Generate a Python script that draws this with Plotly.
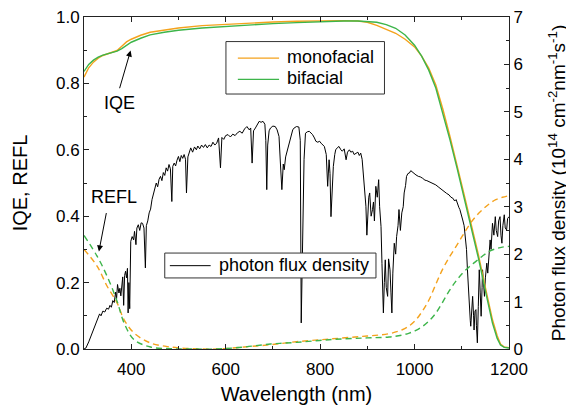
import plotly.graph_objects as go

# IQE curves (left axis)
wl_iqe = [300, 305, 310, 320, 330, 340, 355, 370, 380, 390, 400, 420, 440, 470, 500, 550,
          600, 650, 700, 750, 800, 850, 880, 900, 920, 940, 960, 980, 1000, 1015, 1030,
          1045, 1060, 1075, 1090, 1105, 1120, 1135, 1150, 1165, 1175, 1182, 1190, 1200]
iqe_mono = [0.819, 0.835, 0.847, 0.864, 0.876, 0.884, 0.891, 0.899, 0.912, 0.925, 0.933,
            0.945, 0.954, 0.961, 0.967, 0.974, 0.978, 0.982, 0.985, 0.987, 0.989, 0.989,
            0.988, 0.984, 0.975, 0.963, 0.951, 0.933, 0.910, 0.882, 0.846, 0.795, 0.722,
            0.640, 0.555, 0.465, 0.375, 0.285, 0.185, 0.088, 0.040, 0.015, 0.006, 0.004]
iqe_bi = [0.836, 0.848, 0.857, 0.870, 0.879, 0.885, 0.891, 0.897, 0.905, 0.915, 0.924,
          0.936, 0.946, 0.954, 0.960, 0.967, 0.972, 0.976, 0.980, 0.983, 0.986, 0.988,
          0.988, 0.987, 0.984, 0.977, 0.966, 0.946, 0.915, 0.882, 0.840, 0.786, 0.712,
          0.630, 0.545, 0.455, 0.365, 0.275, 0.175, 0.078, 0.032, 0.012, 0.005, 0.003]

# reflectance curves (left axis)
wl_refl = [300, 328, 349, 370, 385, 406, 441, 484, 526, 582, 639, 695, 750, 819, 890,
           946, 974, 989, 1003, 1017, 1031, 1045, 1059, 1073, 1088, 1102, 1116, 1130,
           1144, 1158, 1172, 1186, 1200]
refl_mono = [0.300, 0.249, 0.189, 0.139, 0.088, 0.048, 0.018, 0.006, 0.001, 0.000, 0.006,
             0.013, 0.022, 0.030, 0.038, 0.046, 0.058, 0.070, 0.088, 0.115, 0.149, 0.195,
             0.239, 0.275, 0.309, 0.342, 0.374, 0.400, 0.420, 0.437, 0.450, 0.457, 0.462]
refl_bi = [0.342, 0.279, 0.219, 0.144, 0.078, 0.028, 0.006, 0.001, 0.000, 0.000, 0.006,
           0.015, 0.020, 0.028, 0.033, 0.036, 0.042, 0.048, 0.056, 0.068, 0.085, 0.108,
           0.140, 0.174, 0.205, 0.229, 0.248, 0.264, 0.280, 0.294, 0.302, 0.307, 0.309]

# photon flux density (right axis, 1e14 cm^-2 nm^-1 s^-1)
wl_flux = [300, 304, 310, 315, 320, 325, 330, 333, 336, 340, 344, 348, 352, 355, 358, 361,
           364, 367, 369, 371, 374, 376, 378, 380, 382, 384, 386, 388, 390, 392, 393.4, 395,
           396.8, 399, 402, 405, 407, 410, 412, 415, 418, 421, 424, 427, 430, 432, 435, 438,
           441, 444, 447, 450, 453, 456, 459, 462, 465, 468, 471, 474, 477, 480, 483, 486,
           488, 491, 494, 497, 500, 503, 506, 509, 512, 515, 517, 520, 523, 526, 530, 534,
           538, 541, 545, 549, 553, 557, 561, 565, 569, 573, 577, 581, 585, 589, 592, 596,
           600, 605, 610, 615, 620, 625, 630, 635, 640, 645, 650, 653, 656, 659, 663, 667,
           671, 675, 679, 683, 685, 687, 689, 692, 695, 700, 705, 709, 713, 716, 719, 722,
           724, 727, 731, 735, 738, 742, 745, 750, 755, 758, 760, 762, 764, 766, 769, 773,
           777, 781, 784, 788, 791, 795, 799, 802, 806, 809, 813, 816, 819, 821, 823, 825,
           828, 831, 833, 837, 840, 844, 847, 851, 855, 858, 862, 865, 869, 872, 876, 880,
           883, 886, 889, 892, 895, 897, 899, 901, 903, 905, 908, 911, 913, 915, 918, 921,
           924, 926, 929, 931, 934, 936, 938, 940, 943, 945, 948, 950, 952, 954, 957, 960,
           962, 965, 967, 970, 973, 976, 978, 981, 983, 986, 989, 992, 994, 998, 1003, 1008,
           1012, 1017, 1022, 1026, 1031, 1036, 1040, 1045, 1050, 1055, 1059, 1064, 1068, 1073,
           1077, 1081, 1085, 1088, 1091, 1094, 1096, 1099, 1102, 1105, 1107, 1110, 1112, 1114,
           1116, 1118, 1119, 1121, 1123, 1125, 1126, 1128, 1130, 1131, 1133, 1135, 1137, 1139,
           1141, 1143, 1144, 1146, 1148, 1150, 1153, 1155, 1158, 1160, 1162, 1165, 1168, 1171,
           1173, 1176, 1178, 1181, 1183, 1185, 1187, 1190, 1192, 1195, 1197, 1200]
flux = [0.00, 0.02, 0.15, 0.28, 0.42, 0.55, 0.68, 0.74, 0.70, 0.80, 0.78, 0.86, 0.84, 0.92,
        0.88, 1.02, 0.98, 1.20, 1.06, 1.36, 1.18, 1.28, 1.12, 1.30, 1.52, 0.92, 1.55, 1.64,
        1.50, 1.70, 0.76, 1.40, 0.85, 2.27, 2.37, 2.30, 2.48, 2.20, 2.55, 2.62, 2.50, 2.66,
        2.65, 2.55, 1.71, 2.60, 2.70, 2.87, 2.95, 3.15, 3.25, 3.35, 3.50, 3.42, 3.58, 3.64,
        3.55, 3.72, 3.66, 3.82, 3.75, 3.89, 3.80, 3.11, 3.85, 3.92, 3.86, 3.98, 4.06, 3.95,
        4.08, 4.02, 4.10, 4.00, 3.29, 4.05, 4.18, 4.24, 4.15, 4.26, 4.20, 4.28, 4.22, 4.30,
        4.25, 4.31, 4.24, 4.30, 4.27, 4.36, 4.30, 4.34, 4.45, 3.82, 4.46, 4.42, 4.50, 4.52,
        4.47, 4.53, 4.50, 4.56, 4.59, 4.55, 4.64, 4.69, 4.62, 4.66, 3.92, 4.60, 4.66, 4.72,
        4.80, 4.78, 4.80, 4.74, 4.40, 3.36, 4.30, 4.60, 4.66, 4.70, 4.69, 4.62, 4.48, 3.90,
        3.36, 3.90, 3.78, 4.05, 4.20, 4.40, 4.52, 4.62, 4.66, 4.69, 4.68, 4.40, 0.55, 1.50,
        2.72, 4.00, 4.55, 4.58, 4.59, 4.55, 4.52, 4.45, 4.38, 4.36, 4.38, 4.34, 4.30, 4.27,
        4.10, 3.43, 3.99, 3.70, 2.79, 3.40, 3.85, 4.10, 4.20, 4.25, 4.27, 4.20, 4.17, 4.22,
        3.99, 4.15, 4.20, 4.15, 4.17, 4.10, 4.13, 4.15, 4.08, 4.13, 4.00, 3.64, 3.20, 3.01,
        2.40, 2.90, 3.20, 3.29, 2.80, 2.94, 3.10, 2.70, 3.43, 3.20, 3.57, 3.00, 2.58, 1.80,
        0.76, 1.40, 1.88, 1.30, 1.11, 1.90, 1.67, 1.20, 0.76, 1.60, 2.23, 2.00, 2.37, 2.60,
        2.94, 2.50, 2.87, 3.00, 3.29, 3.45, 3.64, 3.70, 3.71, 3.76, 3.74, 3.70, 3.67, 3.64,
        3.63, 3.60, 3.56, 3.55, 3.53, 3.50, 3.48, 3.46, 3.42, 3.38, 3.36, 3.30, 3.28, 3.25,
        3.20, 3.18, 3.12, 3.15, 3.05, 2.98, 2.94, 2.80, 2.72, 2.60, 2.44, 2.10, 1.67, 1.20,
        0.83, 0.60, 0.48, 0.90, 1.11, 0.70, 0.40, 0.80, 0.83, 0.50, 0.13, 0.90, 1.67, 1.20,
        0.69, 1.30, 1.67, 1.40, 1.11, 1.50, 1.81, 1.60, 2.09, 2.30, 2.10, 2.65, 2.40, 2.79,
        2.50, 2.37, 2.70, 2.79, 2.40, 2.23, 2.60, 2.83, 2.55, 2.51, 2.75, 2.79]

ORANGE = '#F4A21C'
GREEN = '#3DB54A'
FONT = 'Arial, Liberation Sans, sans-serif'

fig = go.Figure()

# black spectrum on the base (right-hand) axis so coloured curves sit on top
fig.add_trace(go.Scatter(x=wl_flux, y=flux, mode='lines', yaxis='y',
                         line=dict(color='black', width=1),
                         name='photon flux density', showlegend=False))

fig.add_trace(go.Scatter(x=wl_refl, y=refl_mono, mode='lines', yaxis='y2',
                         line=dict(color=ORANGE, width=1.4, dash='6px,4px', shape='spline'),
                         showlegend=False))
fig.add_trace(go.Scatter(x=wl_refl, y=refl_bi, mode='lines', yaxis='y2',
                         line=dict(color=GREEN, width=1.4, dash='6px,4px', shape='spline'),
                         showlegend=False))
fig.add_trace(go.Scatter(x=wl_iqe, y=iqe_mono, mode='lines', yaxis='y2',
                         line=dict(color=ORANGE, width=1.4),
                         name='monofacial', showlegend=False))
fig.add_trace(go.Scatter(x=wl_iqe, y=iqe_bi, mode='lines', yaxis='y2',
                         line=dict(color=GREEN, width=1.4),
                         name='bifacial', showlegend=False))

# arrows + labels
fig.add_annotation(x=398.7, y=0.899, ax=374.5, ay=0.781, xref='x', yref='y2',
                   axref='x', ayref='y2', text='', showarrow=True,
                   arrowhead=2, arrowsize=1.2, arrowwidth=1, arrowcolor='black')
fig.add_annotation(x=376, y=0.740, xref='x', yref='y2', text='IQE', showarrow=False,
                   font=dict(size=18))
fig.add_annotation(x=331.6, y=0.294, ax=347.9, ay=0.414, xref='x', yref='y2',
                   axref='x', ayref='y2', text='', showarrow=True,
                   arrowhead=2, arrowsize=1.2, arrowwidth=1, arrowcolor='black')
fig.add_annotation(x=364.4, y=0.457, xref='x', yref='y2', text='REFL', showarrow=False,
                   font=dict(size=18))

# boxed legends drawn by hand (paper coordinates)
legend_boxes = [(0.334, 0.768, 0.707, 0.926), (0.190, 0.214, 0.687, 0.289)]
for x0, y0, x1, y1 in legend_boxes:
    fig.add_shape(type='rect', xref='paper', yref='paper', x0=x0, y0=y0, x1=x1, y1=y1,
                  line=dict(color='#333', width=1), fillcolor='white', layer='above')
legend_items = [('monofacial', ORANGE, 1.4, 0.362, 0.459, 0.473, 0.876),
                ('bifacial', GREEN, 1.4, 0.362, 0.459, 0.473, 0.812),
                ('photon flux density', 'black', 1, 0.202, 0.298, 0.312, 0.251)]
for label, col, w, lx0, lx1, tx, ly in legend_items:
    fig.add_shape(type='line', xref='paper', yref='paper', x0=lx0, x1=lx1, y0=ly, y1=ly,
                  line=dict(color=col, width=w), layer='above')
    fig.add_annotation(x=tx, y=ly, xref='paper', yref='paper', text=label,
                       showarrow=False, xanchor='left', yanchor='middle',
                       font=dict(size=18), yshift=1)

axis_common = dict(showline=True, linecolor='#222', linewidth=1, ticks='inside',
                   tickcolor='#222', ticklen=5, showgrid=False, zeroline=False,
                   tickfont=dict(size=17), automargin=False, ticklabeloverflow='allow')

# page body has an 8px margin, so the figure is sized/offset to compensate
fig.update_layout(
    width=566, height=397,
    margin=dict(l=76, r=65, t=9, b=56),
    plot_bgcolor='white', paper_bgcolor='white',
    font=dict(family=FONT, color='black', size=18),
    showlegend=False,
    xaxis=dict(range=[300, 1200], dtick=200, tick0=0, mirror='ticks',
               ticklabelstandoff=5,
               minor=dict(dtick=100, ticklen=3, ticks='inside', tickcolor='#222'),
               title=dict(text='Wavelength (nm)', font=dict(size=20), standoff=12),
               **axis_common),
    yaxis=dict(range=[0, 7], dtick=1, side='right',
               minor=dict(dtick=0.5, ticklen=3, ticks='inside', tickcolor='#222'),
               title=dict(text='Photon flux density (10<sup>14</sup> cm<sup>-2</sup>'
                               'nm<sup>-1</sup>s<sup>-1</sup>)',
                          font=dict(size=19), standoff=29),
               **axis_common),
    yaxis2=dict(range=[0, 1], dtick=0.2, tickformat='.1f', side='left', overlaying='y',
                minor=dict(dtick=0.1, ticklen=3, ticks='inside', tickcolor='#222'),
                title=dict(text='IQE, REFL', font=dict(size=20), standoff=22),
                **axis_common),
)

fig.write_html("out.html")
